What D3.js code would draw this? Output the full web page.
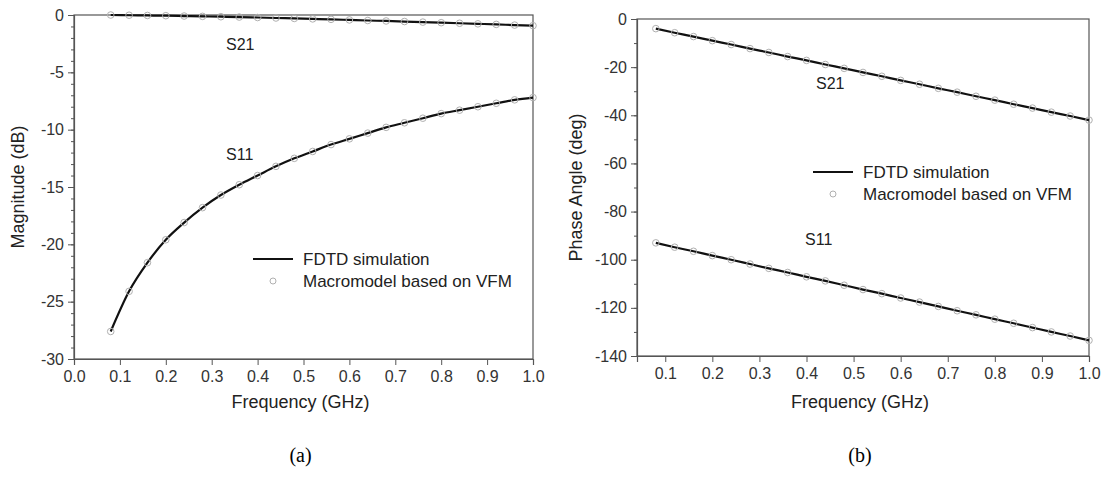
<!DOCTYPE html>
<html lang="en">
<head>
    <meta charset="UTF-8">
    <title>S-parameters: FDTD vs Macromodel</title>
    <script src="https://d3js.org/d3.v7.min.js"></script>
    <style>
        body { margin: 0; background: #fff; }
        svg { display: block; font-family: "Liberation Sans", Arial, sans-serif; }
        .tick text { fill: #333; font-size: 16px; }
        .domain, .tick line { stroke: #555; }
    </style>
</head>
<body>
    <svg width="1110" height="479"></svg>

    <script>
        // frequency samples (GHz)
        const freq = [0.08, 0.12, 0.16, 0.20, 0.24, 0.28, 0.32, 0.36, 0.40, 0.44, 0.48, 0.52,
                      0.56, 0.60, 0.64, 0.68, 0.72, 0.76, 0.80, 0.84, 0.88, 0.92, 0.96, 1.00];

        // magnitude (dB)
        const magS21 = [0.0, -0.02, -0.04, -0.06, -0.09, -0.12, -0.15, -0.18, -0.22, -0.26, -0.30, -0.34,
                        -0.38, -0.43, -0.48, -0.52, -0.57, -0.62, -0.67, -0.72, -0.77, -0.82, -0.88, -0.93];
        const magS11 = [-27.6, -24.1, -21.6, -19.6, -18.1, -16.8, -15.7, -14.8, -14.0, -13.2, -12.5, -11.9,
                        -11.3, -10.8, -10.3, -9.8, -9.4, -9.0, -8.6, -8.3, -8.0, -7.7, -7.4, -7.2];

        // phase angle (deg)
        const phaseS21 = [-4.0, -5.7, -7.3, -9.0, -10.6, -12.3, -13.9, -15.6, -17.2, -18.9, -20.5, -22.2,
                          -23.8, -25.5, -27.1, -28.8, -30.4, -32.1, -33.7, -35.4, -37.0, -38.7, -40.3, -42.0];
        const phaseS11 = [-93.0, -94.8, -96.5, -98.3, -100.0, -101.8, -103.6, -105.3, -107.1, -108.8, -110.6, -112.4,
                          -114.1, -115.9, -117.6, -119.4, -121.2, -122.9, -124.7, -126.4, -128.2, -130.0, -131.7, -133.5];

        const magTicks = [0, -5, -10, -15, -20, -25, -30];
        const phaseTicks = [0, -20, -40, -60, -80, -100, -120, -140];
        const xTicksA = [0.0, 0.1, 0.2, 0.3, 0.4, 0.5, 0.6, 0.7, 0.8, 0.9, 1.0];
        const xTicksB = [0.1, 0.2, 0.3, 0.4, 0.5, 0.6, 0.7, 0.8, 0.9, 1.0];
        const legendLabels = ["FDTD simulation", "Macromodel based on VFM"];

        const svg = d3.select("svg");

        function drawPanel(cfg) {
            const g = svg.append("g");
            const x = d3.scaleLinear().domain(cfg.xDomain).range([cfg.left, cfg.right]);
            const y = d3.scaleLinear().domain(cfg.yDomain).range([cfg.bottom, cfg.top]);

            // frame
            g.append("rect")
                .attr("x", cfg.left).attr("y", cfg.top)
                .attr("width", cfg.right - cfg.left).attr("height", cfg.bottom - cfg.top)
                .attr("fill", "none").attr("stroke", "#555").attr("stroke-width", 1.2);

            // minor y ticks
            g.append("g")
                .attr("transform", `translate(${cfg.left},0)`)
                .call(d3.axisLeft(y).tickValues(cfg.yMinor).tickSize(3).tickFormat(""))
                .call(s => s.select(".domain").remove());

            // plain hyphen minus like the original
            g.append("g")
                .attr("transform", `translate(${cfg.left},0)`)
                .call(d3.axisLeft(y).tickValues(cfg.yTicks).tickSize(6).tickPadding(4).tickFormat(d => String(d)));

            g.append("g")
                .attr("transform", `translate(0,${cfg.bottom})`)
                .call(d3.axisBottom(x).tickValues(cfg.xTicks).tickSize(6).tickPadding(6).tickFormat(d => d.toFixed(1)));

            g.selectAll(".domain").attr("stroke-width", 1.2);

            // axis titles
            g.append("text")
                .attr("x", (cfg.left + cfg.right) / 2 - 3).attr("y", 408)
                .attr("text-anchor", "middle").attr("font-size", 18).attr("fill", "#222")
                .text("Frequency (GHz)");
            g.append("text")
                .attr("transform", `translate(${cfg.yTitleX},${(cfg.top + cfg.bottom) / 2}) rotate(-90)`)
                .attr("text-anchor", "middle").attr("font-size", 18).attr("fill", "#222")
                .text(cfg.yTitle);

            const line = d3.line().x((d, i) => x(freq[i])).y(d => y(d)).curve(d3.curveMonotoneX);

            cfg.series.forEach(s => {
                g.append("path")
                    .attr("d", line(s.values))
                    .attr("fill", "none").attr("stroke", "#111").attr("stroke-width", 2.2);

                g.append("g").selectAll("circle")
                    .data(s.values)
                    .join("circle")
                    .attr("cx", (d, i) => x(freq[i]))
                    .attr("cy", d => y(d))
                    .attr("r", 3.3)
                    .attr("fill", "none").attr("stroke", "#b0b0b0").attr("stroke-width", 1);

                g.append("text")
                    .attr("x", s.labelPos[0]).attr("y", s.labelPos[1])
                    .attr("font-size", 16).attr("fill", "#222")
                    .text(s.name);
            });

            // legend
            const [lx, ly] = cfg.legend;
            g.append("line")
                .attr("x1", lx).attr("x2", lx + 40).attr("y1", ly).attr("y2", ly)
                .attr("stroke", "#111").attr("stroke-width", 2.2);
            g.append("circle")
                .attr("cx", lx + 20).attr("cy", ly + 22).attr("r", 3)
                .attr("fill", "none").attr("stroke", "#b0b0b0");
            legendLabels.forEach((t, i) => {
                g.append("text")
                    .attr("x", lx + 50).attr("y", ly + 6 + i * 22)
                    .attr("font-size", 17).attr("fill", "#222")
                    .text(t);
            });

            g.append("text")
                .attr("x", (cfg.left + cfg.right) / 2 - 3).attr("y", 462)
                .attr("text-anchor", "middle")
                .attr("font-family", "'Liberation Serif', 'Times New Roman', serif")
                .attr("font-size", 20).attr("fill", "#000")
                .text(cfg.caption);
        }

        drawPanel({
            left: 74, right: 533, top: 15, bottom: 359,
            xDomain: [0, 1], yDomain: [-30, 0],
            xTicks: xTicksA, yTicks: magTicks,
            yMinor: d3.range(0, -31, -1),
            yTitle: "Magnitude (dB)", yTitleX: 24,
            series: [
                { name: "S21", values: magS21, labelPos: [226, 50] },
                { name: "S11", values: magS11, labelPos: [226, 160] }
            ],
            legend: [253, 259],
            caption: "(a)"
        });

        drawPanel({
            left: 637, right: 1089, top: 19, bottom: 356,
            xDomain: [0.04, 1], yDomain: [-140, 0],
            xTicks: xTicksB, yTicks: phaseTicks,
            yMinor: d3.range(0, -141, -10),
            yTitle: "Phase Angle (deg)", yTitleX: 582,
            series: [
                { name: "S21", values: phaseS21, labelPos: [816, 89] },
                { name: "S11", values: phaseS11, labelPos: [805, 245] }
            ],
            legend: [813, 172],
            caption: "(b)"
        });
    </script>
</body>
</html>
